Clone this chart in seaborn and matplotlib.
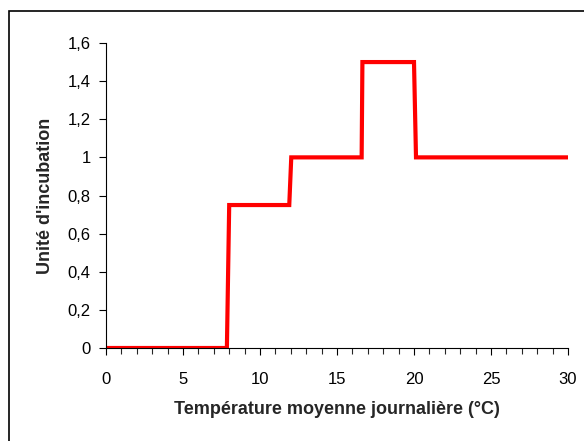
import matplotlib
matplotlib.use('Agg')
import matplotlib.pyplot as plt
import seaborn as sns
import pandas as pd
from matplotlib.ticker import FuncFormatter, MultipleLocator

sns.set_style('white')
plt.rcParams['font.family'] = ['Liberation Sans', 'DejaVu Sans']

# step curve: temperature (°C) vs incubation unit
temperature = [0, 7.85, 8.0, 11.9, 12.03, 16.6, 16.65, 20.0, 20.13, 30]
incubation = [0, 0, 0.75, 0.75, 1.0, 1.0, 1.5, 1.5, 1.0, 1.0]

df = pd.DataFrame({'temp': temperature, 'unit': incubation})

fig = plt.figure(figsize=(5.84, 4.41), dpi=100)
ax = fig.add_axes([106/584, 1 - 348/441, (568 - 106)/584, (348 - 43)/441])

sns.lineplot(data=df, x='temp', y='unit', ax=ax, color='#FF0000',
             linewidth=3, sort=False, estimator=None, solid_joinstyle='miter')

ax.set_xlim(0, 30)
ax.set_ylim(0, 1.6)
ax.xaxis.set_major_locator(MultipleLocator(5))
ax.xaxis.set_minor_locator(MultipleLocator(1))
ax.yaxis.set_major_locator(MultipleLocator(0.2))

fmt = FuncFormatter(lambda v, p: f'{round(v, 2):g}'.replace('.', ','))
ax.xaxis.set_major_formatter(fmt)
ax.yaxis.set_major_formatter(fmt)

ax.tick_params(axis='both', which='major', direction='out', length=5, width=0.8,
               labelsize=12, colors='black', bottom=True, left=True, pad=6)
ax.tick_params(axis='x', which='minor', direction='out', length=4, width=0.8,
               bottom=True)
ax.tick_params(axis='x', which='major', pad=12)

for side in ['top', 'right']:
    ax.spines[side].set_visible(False)
for side in ['left', 'bottom']:
    ax.spines[side].set_color('black')
    ax.spines[side].set_linewidth(0.8)

ax.set_xlabel('Température moyenne journalière (°C)', fontsize=13,
              fontweight='bold', labelpad=10)
ax.set_ylabel("Unité d'incubation", fontsize=13, fontweight='bold', labelpad=10)

# outer chart frame (only top and left edges are visible in the crop)
frame = plt.Rectangle((9/584, -0.5), 1.5, 1.5 - 11/441, transform=fig.transFigure,
                      fill=False, edgecolor='black', linewidth=1.2)
fig.patches.append(frame)

fig.savefig('out.png', dpi=100)
